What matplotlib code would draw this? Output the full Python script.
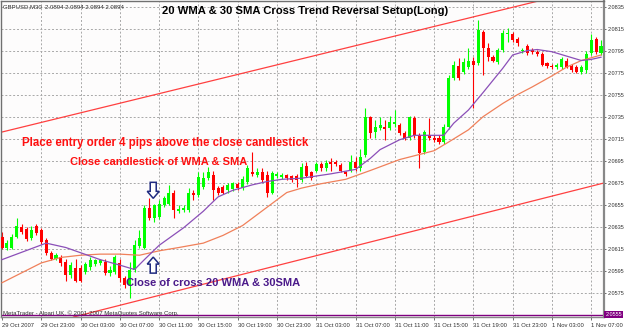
import matplotlib
matplotlib.use("Agg")
import matplotlib.pyplot as plt
import matplotlib.transforms as mtransforms
from matplotlib.patches import Polygon

# ---------------- data (GBPUSD, M30) ----------------
opens = [2.0626, 2.0616, 2.0616, 2.0626, 2.0635, 2.0633, 2.0625, 2.0636, 2.0632, 2.0623,
         2.0611, 2.0606, 2.0607, 2.0603, 2.0591, 2.0597, 2.0597, 2.0594, 2.0598, 2.0601,
         2.0602, 2.0603, 2.0593, 2.0594, 2.0602, 2.0588, 2.0582, 2.0596, 2.0617, 2.0616,
         2.0652, 2.0643, 2.0644, 2.0655, 2.0656, 2.0666, 2.0649, 2.0650, 2.0650, 2.0666,
         2.0664, 2.0671, 2.0679, 2.0682, 2.0670, 2.0671, 2.0668, 2.0669, 2.0674, 2.0670,
         2.0676, 2.0685, 2.0682, 2.0685, 2.0682, 2.0666, 2.0681, 2.0680, 2.0682, 2.0681,
         2.0681, 2.0677, 2.0690, 2.0685, 2.0686, 2.0692, 2.0688, 2.0694, 2.0694, 2.0691,
         2.0685, 2.0686, 2.0694, 2.0688, 2.0700, 2.0735, 2.0721, 2.0725, 2.0726, 2.0725,
         2.0728, 2.0727, 2.0720, 2.0716, 2.0734, 2.0718, 2.0703, 2.0718, 2.0716, 2.0716,
         2.0712, 2.0726, 2.0770, 2.0781, 2.0776, 2.0780, 2.0786, 2.0784, 2.0812, 2.0797,
         2.0789, 2.0785, 2.0796, 2.0810, 2.0810, 2.0806, 2.0795, 2.0799, 2.0796, 2.0794,
         2.0792, 2.0784, 2.0781, 2.0780, 2.0780, 2.0786, 2.0781, 2.0780, 2.0776, 2.0777,
         2.0793, 2.0806, 2.0793]
highs = [2.0630, 2.0623, 2.0628, 2.0643, 2.0637, 2.0635, 2.0636, 2.0637, 2.0634, 2.0625,
         2.0613, 2.0611, 2.0609, 2.0606, 2.0603, 2.0606, 2.0600, 2.0603, 2.0607, 2.0606,
         2.0606, 2.0606, 2.0599, 2.0609, 2.0606, 2.0590, 2.0603, 2.0623, 2.0632, 2.0655,
         2.0661, 2.0656, 2.0659, 2.0663, 2.0673, 2.0668, 2.0655, 2.0655, 2.0670, 2.0668,
         2.0685, 2.0685, 2.0689, 2.0686, 2.0672, 2.0673, 2.0675, 2.0676, 2.0676, 2.0681,
         2.0691, 2.0703, 2.0688, 2.0688, 2.0686, 2.0686, 2.0685, 2.0684, 2.0683, 2.0682,
         2.0683, 2.0693, 2.0694, 2.0686, 2.0694, 2.0694, 2.0696, 2.0697, 2.0696, 2.0693,
         2.0686, 2.0700, 2.0698, 2.0706, 2.0743, 2.0736, 2.0732, 2.0735, 2.0732, 2.0736,
         2.0741, 2.0729, 2.0722, 2.0736, 2.0736, 2.0720, 2.0723, 2.0734, 2.0718, 2.0718,
         2.0728, 2.0773, 2.0786, 2.0788, 2.0788, 2.0797, 2.0789, 2.0823, 2.0814, 2.0802,
         2.0791, 2.0797, 2.0814, 2.0816, 2.0812, 2.0807, 2.0797, 2.0801, 2.0797, 2.0796,
         2.0794, 2.0785, 2.0783, 2.0784, 2.0789, 2.0788, 2.0783, 2.0782, 2.0782, 2.0795,
         2.0810, 2.0807, 2.0805]
lows = [2.0615, 2.0614, 2.0615, 2.0625, 2.0628, 2.0622, 2.0623, 2.0627, 2.0619, 2.0609,
        2.0605, 2.0605, 2.0599, 2.0586, 2.0588, 2.0585, 2.0585, 2.0592, 2.0596, 2.0599,
        2.0600, 2.0591, 2.0590, 2.0592, 2.0585, 2.0579, 2.0570, 2.0594, 2.0616, 2.0615,
        2.0641, 2.0639, 2.0642, 2.0653, 2.0655, 2.0643, 2.0647, 2.0648, 2.0648, 2.0659,
        2.0662, 2.0669, 2.0677, 2.0659, 2.0664, 2.0665, 2.0666, 2.0667, 2.0668, 2.0668,
        2.0674, 2.0681, 2.0680, 2.0676, 2.0662, 2.0665, 2.0679, 2.0678, 2.0677, 2.0676,
        2.0671, 2.0676, 2.0680, 2.0677, 2.0685, 2.0686, 2.0686, 2.0686, 2.0690, 2.0685,
        2.0681, 2.0685, 2.0686, 2.0686, 2.0698, 2.0716, 2.0716, 2.0723, 2.0714, 2.0723,
        2.0726, 2.0718, 2.0714, 2.0714, 2.0716, 2.0688, 2.0701, 2.0714, 2.0712, 2.0710,
        2.0710, 2.0724, 2.0768, 2.0768, 2.0774, 2.0778, 2.0743, 2.0782, 2.0773, 2.0786,
        2.0785, 2.0783, 2.0794, 2.0803, 2.0803, 2.0799, 2.0793, 2.0791, 2.0792, 2.0790,
        2.0781, 2.0779, 2.0778, 2.0778, 2.0778, 2.0779, 2.0776, 2.0775, 2.0774, 2.0775,
        2.0791, 2.0792, 2.0791]
closes = [2.0616, 2.0620, 2.0626, 2.0636, 2.0630, 2.0624, 2.0632, 2.0629, 2.0621, 2.0611,
          2.0606, 2.0609, 2.0602, 2.0591, 2.0600, 2.0586, 2.0586, 2.0601, 2.0605, 2.0605,
          2.0605, 2.0593, 2.0596, 2.0607, 2.0588, 2.0582, 2.0596, 2.0618, 2.0625, 2.0652,
          2.0643, 2.0655, 2.0656, 2.0661, 2.0666, 2.0650, 2.0651, 2.0652, 2.0666, 2.0664,
          2.0680, 2.0679, 2.0685, 2.0668, 2.0666, 2.0666, 2.0673, 2.0675, 2.0670, 2.0678,
          2.0688, 2.0683, 2.0685, 2.0677, 2.0666, 2.0684, 2.0683, 2.0682, 2.0679, 2.0677,
          2.0677, 2.0689, 2.0681, 2.0679, 2.0692, 2.0688, 2.0693, 2.0692, 2.0692, 2.0686,
          2.0683, 2.0694, 2.0688, 2.0698, 2.0735, 2.0720, 2.0726, 2.0727, 2.0724, 2.0730,
          2.0730, 2.0720, 2.0716, 2.0735, 2.0718, 2.0702, 2.0721, 2.0716, 2.0714, 2.0712,
          2.0726, 2.0770, 2.0782, 2.0770, 2.0785, 2.0786, 2.0782, 2.0814, 2.0797, 2.0789,
          2.0786, 2.0796, 2.0811, 2.0811, 2.0805, 2.0802, 2.0796, 2.0793, 2.0794, 2.0792,
          2.0782, 2.0781, 2.0780, 2.0782, 2.0787, 2.0780, 2.0777, 2.0776, 2.0780, 2.0792,
          2.0805, 2.0794, 2.0799]

# 20 WMA (purple) and 30 SMA (orange)
wma_bars = [0, 9, 13, 20, 24, 27, 29, 32, 37, 41, 44, 47, 51, 54, 57, 61, 67, 72, 75, 77,
            81, 84, 90, 92, 95, 98, 102, 104, 107, 109, 112, 115, 118, 120, 122]
wma_vals = [2.0605, 2.0620, 2.0616, 2.0605, 2.0600, 2.0596, 2.0605, 2.0618, 2.0634, 2.0649,
            2.0662, 2.0668, 2.0673, 2.0676, 2.0678, 2.0679, 2.0683, 2.0687, 2.0697, 2.0705,
            2.0714, 2.0718, 2.0718, 2.0729, 2.0741, 2.0757, 2.0779, 2.0791, 2.0795, 2.0796,
            2.0794, 2.0790, 2.0786, 2.0787, 2.0789]
sma_bars = [0, 4, 8, 12, 16, 20, 24, 28, 32, 36, 41, 45, 49, 52, 55, 58, 61, 65, 70, 75,
            81, 88, 91, 95, 98, 102, 105, 108, 112, 115, 118, 122]
sma_vals = [2.0584, 2.0593, 2.0602, 2.0607, 2.0609, 2.0610, 2.0610, 2.0609, 2.0613, 2.0616,
            2.0620, 2.0627, 2.0636, 2.0646, 2.0656, 2.0666, 2.0670, 2.0674, 2.0678, 2.0686,
            2.0696, 2.0704, 2.0712, 2.0723, 2.0735, 2.0747, 2.0755, 2.0762, 2.0772, 2.0780,
            2.0786, 2.0791]

channel_upper = [(0, 2.0721), (122, 2.0854)]
channel_lower = [(28, 2.0568), (122, 2.0674)]
hline_price = 2.0555

ytick_vals = [2.0835, 2.0815, 2.0795, 2.0775, 2.0755, 2.0735, 2.0715, 2.0695, 2.0675,
              2.0655, 2.0635, 2.0615, 2.0595, 2.0575]
xtick_bars = [0, 8, 16, 24, 32, 40, 48, 56, 64, 72, 80, 88, 96, 104, 112, 120]
xtick_labels = ["29 Oct 2007", "29 Oct 23:00", "30 Oct 03:00", "30 Oct 07:00", "30 Oct 11:00",
                "30 Oct 15:00", "30 Oct 19:00", "30 Oct 23:00", "31 Oct 03:00", "31 Oct 07:00",
                "31 Oct 11:00", "31 Oct 15:00", "31 Oct 19:00", "31 Oct 23:00", "1 Nov 03:00",
                "1 Nov 07:00"]

# ---------------- figure ----------------
W, H = 625, 330
fig = plt.figure(figsize=(W / 100, H / 100), dpi=100)
fig.patch.set_facecolor("white")
ax = fig.add_axes([1 / W, 13 / H, 603 / W, 316 / H])
ax.set_facecolor("#fdfcfc")
ax.set_xlim(-0.204, 122.61)
ax.set_ylim(2.055285, 2.08401)

# grid
for yv in ytick_vals:
    ax.axhline(yv, color="#a8a8a8", lw=0.7, ls=(0, (2, 2)), zorder=0)
for xb in xtick_bars[1:]:
    ax.axvline(xb, color="#a8a8a8", lw=0.7, ls=(0, (2, 2)), zorder=0)

# channel lines
ax.axline(channel_upper[0], channel_upper[1], color="#ff4040", lw=0.9, zorder=1)
ax.axline(channel_lower[0], channel_lower[1], color="#ff4040", lw=0.9, zorder=1)

# horizontal purple line
ax.axhline(hline_price, color="#800080", lw=1.0, zorder=1)

# candles
bull, bear = "#00ff00", "#ff0000"
bw = 0.62
minh = 0.00009
for i, (o, h, l, c) in enumerate(zip(opens, highs, lows, closes)):
    col = bull if c >= o else bear
    ax.vlines(i, l, h, color=col, lw=0.8, zorder=2)
    lo, hi = min(o, c), max(o, c)
    if hi - lo < minh:
        mid = (hi + lo) / 2
        lo, hi = mid - minh / 2, mid + minh / 2
    ax.bar(i, hi - lo, bottom=lo, width=bw, color=col, edgecolor="none", zorder=3)

# moving averages
ax.plot(sma_bars, sma_vals, color="#f0805a", lw=0.9, zorder=4)
ax.plot(wma_bars, wma_vals, color="#8b4fb8", lw=0.9, zorder=4)

# axes styling
for s in ["left", "top"]:
    ax.spines[s].set_color("#707070")
    ax.spines[s].set_linewidth(1.0)
ax.spines["right"].set_color("#888888")
ax.spines["right"].set_linewidth(1.6)
ax.spines["bottom"].set_color("#888888")
ax.spines["bottom"].set_linewidth(1.0)

small = dict(family="Liberation Sans", size=4.0)
ax.yaxis.tick_right()
ax.set_yticks(ytick_vals)
ax.set_yticklabels([f"{v:.4f}" for v in ytick_vals], fontdict=small, color="#303030")
ax.tick_params(axis="y", length=1.5, width=0.6, pad=0.8, color="#555555")
ax.set_xticks(xtick_bars)
ax.set_xticklabels(xtick_labels, fontdict=dict(family="Liberation Sans", size=4.2),
                   color="#303030", ha="left")
ax.tick_params(axis="x", length=2.5, width=0.6, pad=1.5, color="#555555")

# highlighted price label for the horizontal line
ax.text(1.002, hline_price, f"{hline_price:.4f}", transform=ax.get_yaxis_transform(),
        ha="left", va="center", color="white", family="Liberation Sans", size=4.0,
        bbox=dict(facecolor="#800080", edgecolor="none", pad=0.6), zorder=10, clip_on=False)


def fpx(x, y):
    return x / W, 1 - y / H


# texts
fig.text(*fpx(3, 7), "GBPUSD,M30  2.0894 2.0894 2.0894 2.0894", ha="left", va="center",
         color="#303030", family="Liberation Sans", size=4.3)
fig.text(*fpx(3, 313), "MetaTrader - Alpari UK, \u00a9 2001-2007 MetaQuotes Software Corp.",
         ha="left", va="center", color="#303030", family="Liberation Sans", size=4.3)
fig.text(*fpx(305, 11), "20 WMA & 30 SMA Cross Trend Reversal Setup(Long)", ha="center",
         va="center", color="black", family="Liberation Sans", weight="bold", size=8.1)
fig.text(*fpx(22, 143), "Place entry order 4 pips above the close candlestick", ha="left",
         va="center", color="#ff1010", family="Liberation Sans", weight="bold", size=8.3)
fig.text(*fpx(70, 162), "Close candlestick of WMA & SMA", ha="left",
         va="center", color="#ff1010", family="Liberation Sans", weight="bold", size=8.05)
fig.text(*fpx(126, 283), "Close of cross 20 WMA & 30SMA", ha="left",
         va="center", color="#4b1a8a", family="Liberation Sans", weight="bold", size=8.05)

# hollow arrows anchored at data points
arrow_down_anchor = (30.8, 2.0668)
arrow_up_anchor = (30.8, 2.0600)
down_shape = [(-3, 8), (3, 8), (3, -1), (6, -1), (0, -8), (-6, -1), (-3, -1)]
up_shape = [(x, -y) for x, y in down_shape]
for anchor, shape in [(arrow_down_anchor, down_shape), (arrow_up_anchor, up_shape)]:
    cx, cy = ax.transData.transform(anchor)
    verts = [(cx + dx, cy + dy) for dx, dy in shape]
    ax.add_patch(Polygon(verts, closed=True, transform=mtransforms.IdentityTransform(),
                         facecolor="white", edgecolor="#1f2a80", lw=1.1, zorder=6))

fig.savefig("out.png", dpi=100, facecolor="white")
